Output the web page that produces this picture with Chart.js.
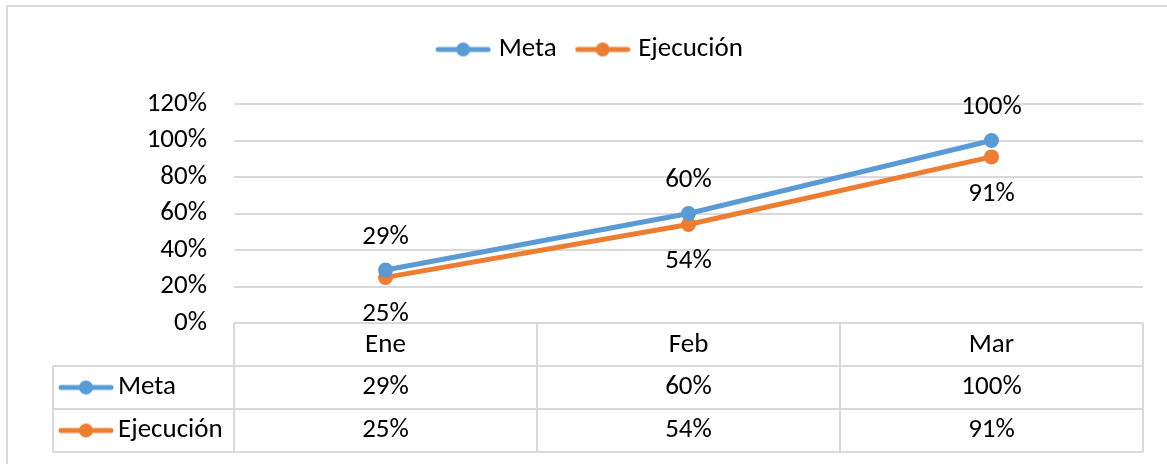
<!DOCTYPE html>
<html>
<head>
<meta charset="utf-8">
<script src="https://cdn.jsdelivr.net/npm/chart.js@4.4.1/dist/chart.umd.min.js"></script>
<style>
  html, body { margin: 0; padding: 0; background: #fff; }
  #wrap { position: relative; width: 1167px; height: 464px; }
</style>
</head>
<body>
<div id="wrap"><canvas id="chart"></canvas></div>
<script>
// Data
const categories = ["Ene", "Feb", "Mar"];
const metaValues = [29, 60, 100];
const ejecucionValues = [25, 54, 91];
const yTicks = [0, 20, 40, 60, 80, 100, 120];

const FONT = "'Carlito', 'Liberation Sans', Arial, sans-serif";
const FONT_SIZE = 27;
const GRID = "#d9d9d9";
const BLUE = "#5b9bd5";
const ORANGE = "#ed7d31";

// line + dot icon, like the Excel legend key
function makeIcon(color) {
  const c = document.createElement("canvas");
  c.width = 56;
  c.height = 16;
  const g = c.getContext("2d");
  g.strokeStyle = color;
  g.lineWidth = 5;
  g.lineCap = "round";
  g.beginPath();
  g.moveTo(3, 8);
  g.lineTo(53, 8);
  g.stroke();
  g.fillStyle = color;
  g.beginPath();
  g.arc(28, 8, 7, 0, Math.PI * 2);
  g.fill();
  return c;
}
const icons = [makeIcon(BLUE), makeIcon(ORANGE)];

// frame around the whole chart
const framePlugin = {
  id: "frame",
  beforeDraw(chart) {
    const ctx = chart.ctx;
    ctx.save();
    ctx.strokeStyle = GRID;
    ctx.lineWidth = 2;
    ctx.strokeRect(7, 6, chart.width + 20, chart.height + 20);
    ctx.restore();
  }
};

// extra space under legend
const legendMargin = {
  id: "legendMargin",
  beforeInit(chart) {
    const fit = chart.legend.fit;
    chart.legend.fit = function () {
      fit.bind(chart.legend)();
      this.height += 31;
    };
  }
};

// value labels above (Meta) and below (Ejecución) the points
const pointLabels = {
  id: "pointLabels",
  afterDatasetsDraw(chart) {
    const ctx = chart.ctx;
    ctx.save();
    ctx.font = FONT_SIZE + "px " + FONT;
    ctx.fillStyle = "#000";
    ctx.textAlign = "center";
    ctx.textBaseline = "middle";
    chart.data.datasets.forEach((ds, di) => {
      const meta = chart.getDatasetMeta(di);
      meta.data.forEach((pt, i) => {
        const dy = di === 0 ? -33 : 37;
        ctx.fillText(ds.data[i] + "%", pt.x, pt.y + dy);
      });
    });
    ctx.restore();
  }
};

// data table under the plot
const dataTable = {
  id: "dataTable",
  afterDraw(chart) {
    const ctx = chart.ctx;
    const area = chart.chartArea;
    const xs = chart.scales.x;
    const rowH = 43;
    const top = area.bottom;
    const labelLeft = 53;
    const colW = (area.right - area.left) / categories.length;

    ctx.save();
    ctx.strokeStyle = GRID;
    ctx.lineWidth = 2;
    ctx.beginPath();
    ctx.moveTo(area.left, top);
    ctx.lineTo(area.right, top);
    for (let r = 1; r <= 3; r++) {
      ctx.moveTo(labelLeft, top + r * rowH);
      ctx.lineTo(area.right, top + r * rowH);
    }
    for (let c = 0; c <= categories.length; c++) {
      ctx.moveTo(area.left + c * colW, top);
      ctx.lineTo(area.left + c * colW, top + 3 * rowH);
    }
    ctx.moveTo(labelLeft, top + rowH);
    ctx.lineTo(labelLeft, top + 3 * rowH);
    ctx.stroke();

    ctx.font = FONT_SIZE + "px " + FONT;
    ctx.fillStyle = "#000";
    ctx.textBaseline = "middle";
    ctx.textAlign = "center";
    categories.forEach((cat, i) => {
      ctx.fillText(cat, xs.getPixelForValue(i), top + rowH / 2 + 1);
    });
    chart.data.datasets.forEach((ds, di) => {
      const y = top + rowH * (di + 1.5);
      ctx.textAlign = "center";
      ds.data.forEach((v, i) => {
        ctx.fillText(v + "%", xs.getPixelForValue(i), y);
      });
      ctx.drawImage(icons[di], labelLeft + 5, y - 8);
      ctx.textAlign = "left";
      ctx.fillText(ds.label, labelLeft + 65, y);
    });
    ctx.restore();
  }
};

new Chart(document.getElementById("chart"), {
  type: "line",
  data: {
    labels: categories,
    datasets: [
      {
        label: "Meta",
        data: metaValues,
        borderColor: BLUE,
        backgroundColor: BLUE,
        borderWidth: 5,
        pointRadius: 7.5,
        pointHoverRadius: 7.5,
        pointStyle: "circle",
        pointBorderWidth: 0,
        tension: 0
      },
      {
        label: "Ejecución",
        data: ejecucionValues,
        borderColor: ORANGE,
        backgroundColor: ORANGE,
        borderWidth: 5,
        pointRadius: 7.5,
        pointHoverRadius: 7.5,
        pointStyle: "circle",
        pointBorderWidth: 0,
        tension: 0
      }
    ]
  },
  options: {
    responsive: true,
    maintainAspectRatio: false,
    animation: false,
    layout: { padding: { top: 12, left: 41, right: 24, bottom: 141 } },
    plugins: {
      tooltip: { enabled: false },
      legend: {
        position: "top",
        labels: {
          usePointStyle: true,
          pointStyleWidth: 44,
          padding: 24,
          color: "#000",
          font: { family: FONT, size: FONT_SIZE },
          generateLabels(chart) {
            return chart.data.datasets.map((ds, i) => ({
              text: ds.label,
              pointStyle: icons[i],
              fillStyle: ds.borderColor,
              strokeStyle: ds.borderColor,
              lineWidth: 0,
              fontColor: "#000",
              hidden: false,
              datasetIndex: i
            }));
          }
        }
      }
    },
    scales: {
      x: {
        display: false,
        offset: true
      },
      y: {
        min: 0,
        max: 120,
        afterFit(scale) { scale.width = 193; },
        afterBuildTicks(scale) { scale.ticks = yTicks.map(v => ({ value: v })); },
        border: { display: false },
        grid: { color: GRID, lineWidth: 2, drawTicks: false },
        ticks: {
          padding: 27,
          color: "#000",
          font: { family: FONT, size: FONT_SIZE },
          callback: v => v + "%"
        }
      }
    }
  },
  plugins: [framePlugin, legendMargin, pointLabels, dataTable]
});
</script>
</body>
</html>
